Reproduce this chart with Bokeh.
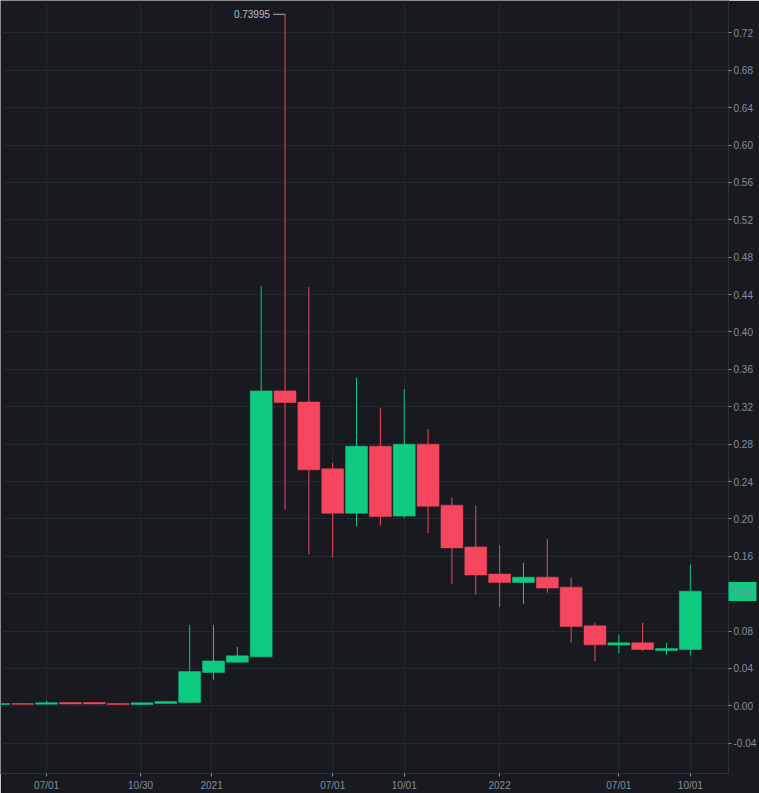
from bokeh.plotting import figure
from bokeh.models import Range1d, FixedTicker, ColumnDataSource, PrintfTickFormatter
from bokeh.embed import file_html
from bokeh.resources import INLINE
from bokeh.core.properties import value

# ---- data ----
bar_index = list(range(30))
opens = [0.0015, 0.0024, 0.0018, 0.0036, 0.0036, 0.0024, 0.0014, 0.0026, 0.0036, 0.0357,
         0.0467, 0.0524, 0.3370, 0.3250, 0.2536, 0.2060, 0.2778, 0.2030, 0.2800, 0.2147,
         0.1700, 0.1410, 0.1320, 0.1377, 0.1270, 0.0856, 0.0650, 0.0674, 0.0592, 0.0603]
highs = [0.0026, 0.0026, 0.0054, 0.0038, 0.0038, 0.0026, 0.0034, 0.0052, 0.0867, 0.0867,
         0.0630, 0.4490, 0.73995, 0.4480, 0.2600, 0.3510, 0.3190, 0.3390, 0.2963, 0.2230,
         0.2140, 0.1720, 0.1530, 0.1787, 0.1370, 0.0888, 0.0760, 0.0888, 0.0674, 0.1510]
lows = [0.0012, 0.0014, 0.0016, 0.0018, 0.0018, 0.0012, 0.0012, 0.0024, 0.0030, 0.0278,
        0.0460, 0.0524, 0.2100, 0.1620, 0.1587, 0.1920, 0.1926, 0.2008, 0.1850, 0.1300,
        0.1190, 0.1056, 0.1090, 0.1210, 0.0677, 0.0480, 0.0567, 0.0588, 0.0546, 0.0539]
closes = [0.0024, 0.0016, 0.0034, 0.0020, 0.0020, 0.0014, 0.0032, 0.0046, 0.0367, 0.0481,
          0.0535, 0.3370, 0.3245, 0.2525, 0.2060, 0.2778, 0.2026, 0.2800, 0.2135, 0.1690,
          0.1400, 0.1320, 0.1377, 0.1260, 0.0849, 0.0653, 0.0674, 0.0603, 0.0613, 0.1227]

x_tick_positions = [2, 5.94, 8.92, 14, 17, 21, 26, 29]
x_tick_labels = ["07/01", "10/30", "2021", "07/01", "10/01", "2022", "07/01", "10/01"]
y_ticks = [-0.04, 0.00, 0.04, 0.08, 0.12, 0.16, 0.20, 0.24, 0.28, 0.32, 0.36, 0.40,
           0.44, 0.48, 0.52, 0.56, 0.60, 0.64, 0.68, 0.72]
max_label = "0.73995"

# ---- styles ----
BG = "#181A20"
GREEN = "#0ECB81"
RED = "#F6465D"
GRID = "#22262D"
AXIS = "#2B3039"
LABEL = "#848E9C"
FONT = "Liberation Sans"

X_START, X_END = 0.066, 30.60

colors = [GREEN if c >= o else RED for o, c in zip(opens, closes)]
src = ColumnDataSource(dict(
    x=bar_index,
    top=[max(o, c) for o, c in zip(opens, closes)],
    bottom=[min(o, c) for o, c in zip(opens, closes)],
    high=highs, low=lows, color=colors,
))

p = figure(width=759, height=793, output_backend="svg", toolbar_location=None,
           x_range=Range1d(X_START, X_END), y_range=Range1d(-0.0724, 0.7547),
           y_axis_location="right",
           min_border_left=0, min_border_top=0, min_border_right=28, min_border_bottom=20)
p.background_fill_color = BG
p.border_fill_color = BG
p.outline_line_color = None

p.segment(x0="x", x1="x", y0="low", y1="high", color="color", line_width=1, source=src)
p.vbar(x="x", width=0.92, top="top", bottom="bottom", fill_color="color",
       line_color="color", line_width=0.5, source=src)

# max annotation
i_max = highs.index(max(highs))
p.segment(x0=[i_max - 0.5], x1=[i_max], y0=[highs[i_max]], y1=[highs[i_max]],
          color="#A7ADB5", line_width=1)
p.text(x=[i_max], y=[highs[i_max]], text=[max_label], x_offset=-15,
       text_align="right", text_baseline="middle", text_color="#B7BDC6",
       text_font=value(FONT), text_font_size="10px")

# axes
last_price = closes[-1]
# the 0.12 label sits on the last-price tag, so its tick is moved to the last price
axis_ticks = [t for t in y_ticks if abs(t - last_price) > 0.01] + [last_price]

xa = p.xaxis[0]
xa.ticker = FixedTicker(ticks=x_tick_positions)
xa.major_label_overrides = {t: l for t, l in zip(x_tick_positions, x_tick_labels)}
ya = p.yaxis[0]
# the minor tick at the last price is drawn as the green price tag
ya.ticker = FixedTicker(ticks=axis_ticks, minor_ticks=[last_price])
ya.formatter = PrintfTickFormatter(format="%.2f")
for ax in (xa, ya):
    ax.axis_line_color = AXIS
    ax.major_tick_line_color = LABEL
    ax.major_tick_in = 0
    ax.major_tick_out = 3
    ax.major_label_text_color = LABEL
    ax.major_label_text_font = FONT
    ax.major_label_text_font_size = "10px"
xa.minor_tick_line_color = None
ya.minor_tick_line_color = GREEN
ya.minor_tick_line_width = 19
ya.minor_tick_in = 0
ya.minor_tick_out = 28
ya.major_label_standoff = -23
xa.major_label_standoff = 3

p.xgrid.ticker = FixedTicker(ticks=x_tick_positions)
p.ygrid.ticker = FixedTicker(ticks=y_ticks)
p.grid.grid_line_color = GRID
p.grid.grid_line_width = 1

open("out.html", "w").write(file_html(p, INLINE))
